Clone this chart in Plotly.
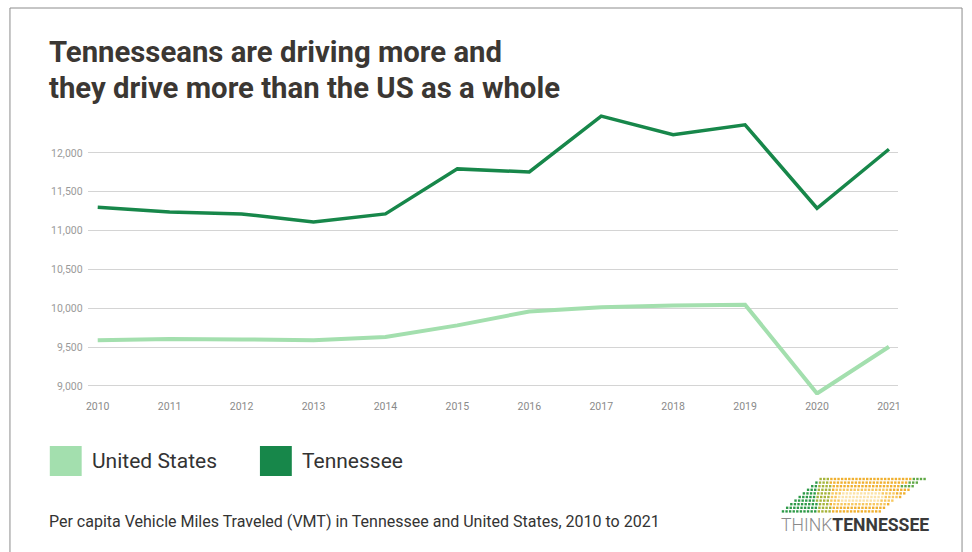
import plotly.graph_objects as go

W, H = 972, 552

years = [2010, 2011, 2012, 2013, 2014, 2015, 2016, 2017, 2018, 2019, 2020, 2021]
tennessee = [11300, 11240, 11215, 11110, 11215, 11795, 11755, 12475, 12235, 12362, 11288, 12048]
united_states = [9588, 9605, 9600, 9590, 9630, 9780, 9960, 10015, 10035, 10047, 8903, 9505]
y_ticks = [9000, 9500, 10000, 10500, 11000, 11500, 12000]
y_tick_labels = ["9,000", "9,500", "10,000", "10,500", "11,000", "11,500", "12,000"]

TN_COLOR = "#17874a"
US_COLOR = "#a3dfae"

def px(x):
    return x / W

def py(y):
    return 1 - y / H

fig = go.Figure()

fig.add_trace(go.Scatter(x=years, y=united_states, mode="lines",
                         line=dict(color=US_COLOR, width=4), showlegend=False))
fig.add_trace(go.Scatter(x=years, y=tennessee, mode="lines",
                         line=dict(color=TN_COLOR, width=3.5), showlegend=False))

# Logo dot pattern on a pixel-space overlay axis
dx, dy = 3.6, 3.6
lx, ly, lc = [], [], []
for r in range(10):
    yy = 479 + r * dy
    x_start = 822 - r * 4.2
    x_end = 927 - r * 5.0
    x = x_start
    while x <= x_end:
        if x < 818:
            c = "#2e9a48"
        elif x < 832:
            c = "#a6b43a"
        elif x > x_end - 14 and r < 3:
            c = "#5fa845"
        else:
            d = ((x - 862) ** 2 / 900 + (yy - 497) ** 2 / 60) ** 0.5
            if d < 0.8:
                c = "#fbe3a8"
            elif d < 1.3:
                c = "#f7c860"
            else:
                c = "#f0b030"
        lx.append(x)
        ly.append(yy)
        lc.append(c)
        x += dx
fig.add_trace(go.Scatter(x=lx, y=ly, mode="markers", xaxis="x2", yaxis="y2",
                         marker=dict(symbol="square", size=2.4, color=lc, line=dict(width=0)),
                         showlegend=False, hoverinfo="skip"))

fig.update_layout(
    width=W, height=H,
    margin=dict(l=0, r=0, t=0, b=0),
    paper_bgcolor="white", plot_bgcolor="rgba(0,0,0,0)",
    font=dict(family="Roboto", color="#333"),
    xaxis=dict(domain=[px(86), px(900)], range=[2009.86, 2021.13],
               tickmode="array", tickvals=years, ticktext=[str(y) for y in years],
               showgrid=False, zeroline=False, showline=False, ticks="", ticklabelstandoff=3,
               tickfont=dict(size=10.5, color="#8a8a8a", family="Roboto")),
    yaxis=dict(domain=[py(395), py(110)], range=[8884, 12553],
               tickmode="array", tickvals=y_ticks, ticktext=y_tick_labels,
               showgrid=True, gridcolor="#d4d4d4", gridwidth=1,
               zeroline=False, showline=False, ticks="", ticklabelstandoff=4,
               tickfont=dict(size=10.5, color="#9a9a9a", family="Roboto")),
    xaxis2=dict(domain=[0, 1], range=[0, W], visible=False, anchor="y2", fixedrange=True),
    yaxis2=dict(domain=[0, 1], range=[H, 0], visible=False, anchor="x2", fixedrange=True),
    showlegend=False,
)

shapes = [
    dict(type="rect", xref="paper", yref="paper", x0=px(8), x1=px(964), y0=py(8), y1=py(600),
         line=dict(color="#8c8c8c", width=1), fillcolor="rgba(0,0,0,0)", layer="below"),
    dict(type="rect", xref="paper", yref="paper", x0=px(48), x1=px(80), y0=py(446), y1=py(476),
         line=dict(width=0), fillcolor=US_COLOR),
    dict(type="rect", xref="paper", yref="paper", x0=px(259), x1=px(291), y0=py(446), y1=py(476),
         line=dict(width=0), fillcolor=TN_COLOR),
]
fig.update_layout(shapes=shapes)

title_font = dict(size=29.3, color="#3b3733", family="Roboto")
annotations = [
    dict(text="<b>Tennesseans are driving more and</b>",
         x=px(45), y=py(52), xref="paper", yref="paper", xanchor="left", yanchor="middle",
         align="left", showarrow=False, font=title_font),
    dict(text="<b>they drive more than the US as a whole</b>",
         x=px(45), y=py(88), xref="paper", yref="paper", xanchor="left", yanchor="middle",
         align="left", showarrow=False, font=title_font),
    dict(text="United States", x=px(88), y=py(461), xref="paper", yref="paper",
         xanchor="left", yanchor="middle", showarrow=False,
         font=dict(size=21, color="#333", family="Roboto")),
    dict(text="Tennessee", x=px(299), y=py(461), xref="paper", yref="paper",
         xanchor="left", yanchor="middle", showarrow=False,
         font=dict(size=21, color="#333", family="Roboto")),
    dict(text="Per capita Vehicle Miles Traveled (VMT) in Tennessee and United States, 2010 to 2021",
         x=px(45), y=py(521), xref="paper", yref="paper",
         xanchor="left", yanchor="middle", showarrow=False,
         font=dict(size=16, color="#333", family="Roboto")),
    dict(text="<span style='color:#8a8a8a;font-weight:300'>THINK</span><b>TENNESSEE</b>",
         x=px(780), y=py(525), xref="paper", yref="paper",
         xanchor="left", yanchor="middle", showarrow=False,
         font=dict(size=17.6, color="#3a3a3a", family="Roboto")),
]
fig.update_layout(annotations=annotations)

fig.write_html("out.html")
